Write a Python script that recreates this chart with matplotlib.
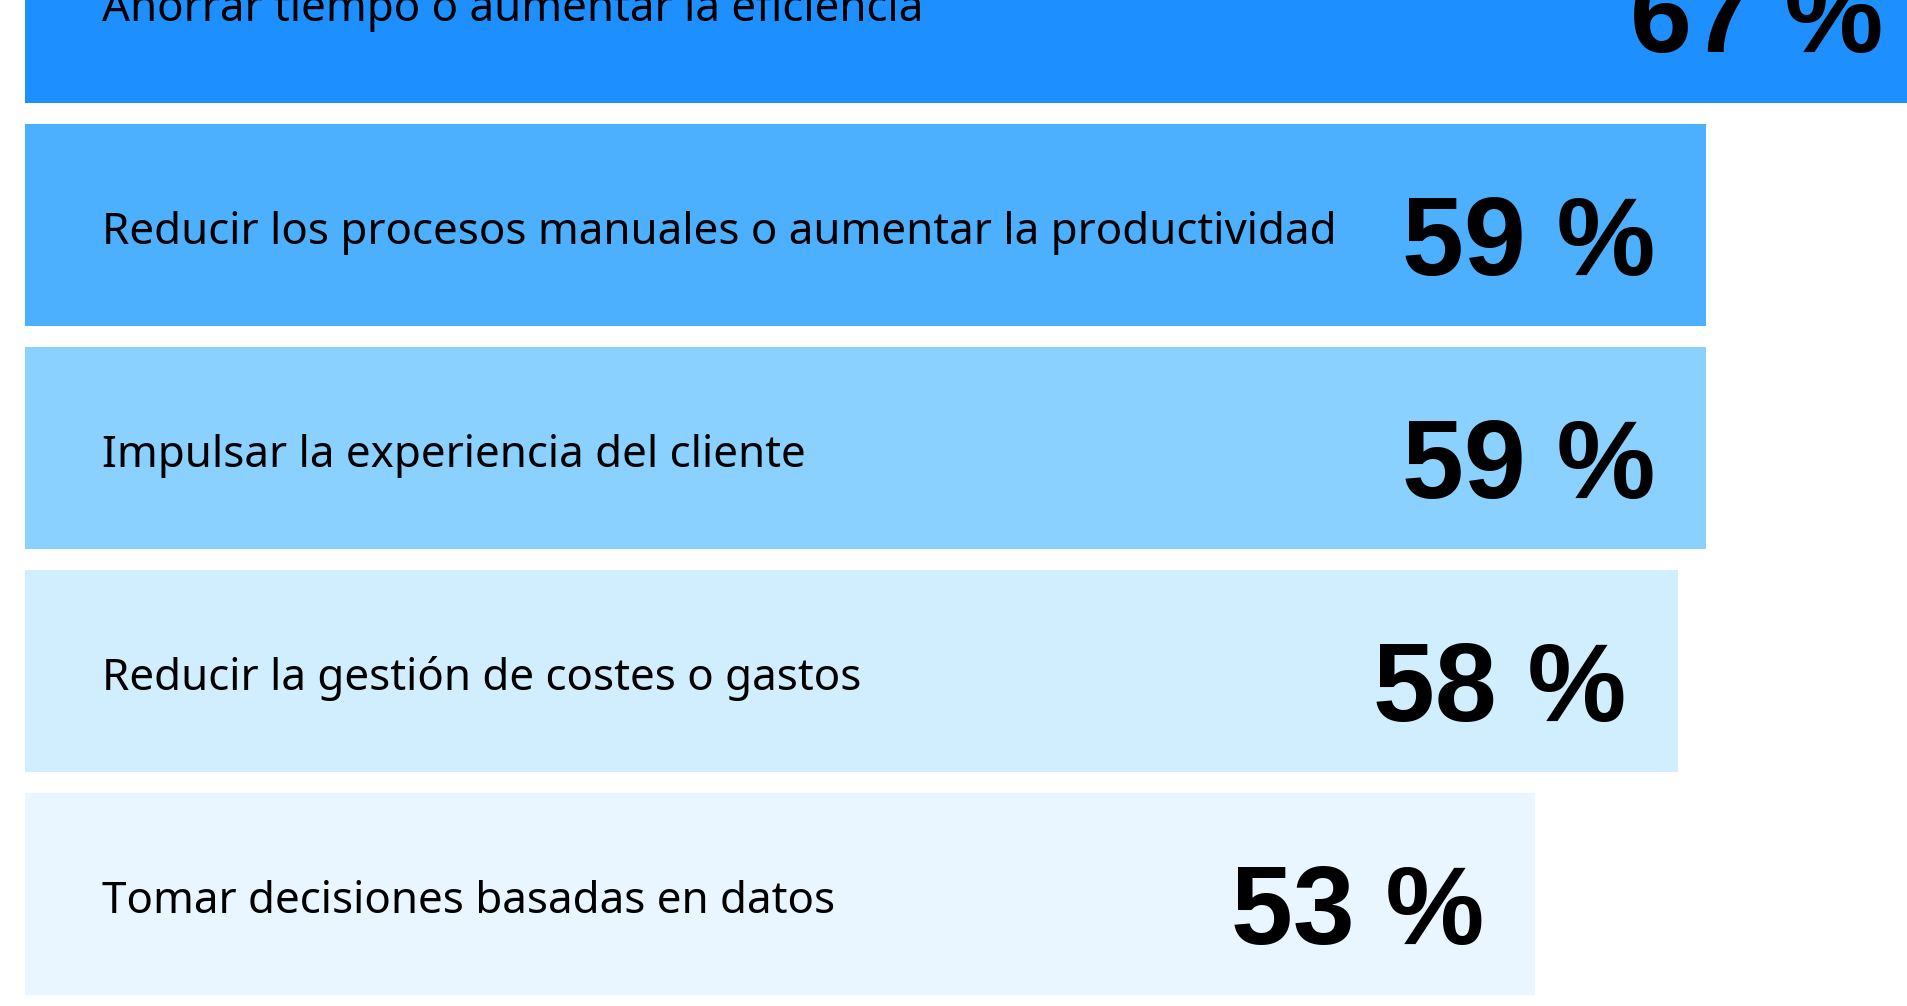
import matplotlib.pyplot as plt

labels = [
    "Ahorrar tiempo o aumentar la eficiencia",
    "Reducir los procesos manuales o aumentar la productividad",
    "Impulsar la experiencia del cliente",
    "Reducir la gestión de costes o gastos",
    "Tomar decisiones basadas en datos",
]
values = [67, 59, 59, 58, 53]
colors = ["#1e8fff", "#4db0ff", "#8ad1ff", "#d1eeff", "#eaf6ff"]

fig = plt.figure(figsize=(19.07, 10.06), dpi=100)
ax = fig.add_axes([0, 0, 1, 1])

pos = list(range(len(values)))
ax.barh(pos, values, height=0.906, color=colors, edgecolor="none")

for i, (lab, v) in enumerate(zip(labels, values)):
    ax.text(2.7, i + 0.083, lab, ha="left", va="baseline",
            fontsize=31.6, family="Noto Sans", color="black")
    ax.text(v - 1.8, i + 0.224, f"{v} %", ha="right", va="baseline",
            fontsize=80, fontweight="bold", family="Liberation Sans", color="black")

ax.set_xlim(-0.877, 66.04)
ax.set_ylim(4.501, -0.0105)
ax.axis("off")

fig.savefig("out.png", dpi=100, facecolor="white")
